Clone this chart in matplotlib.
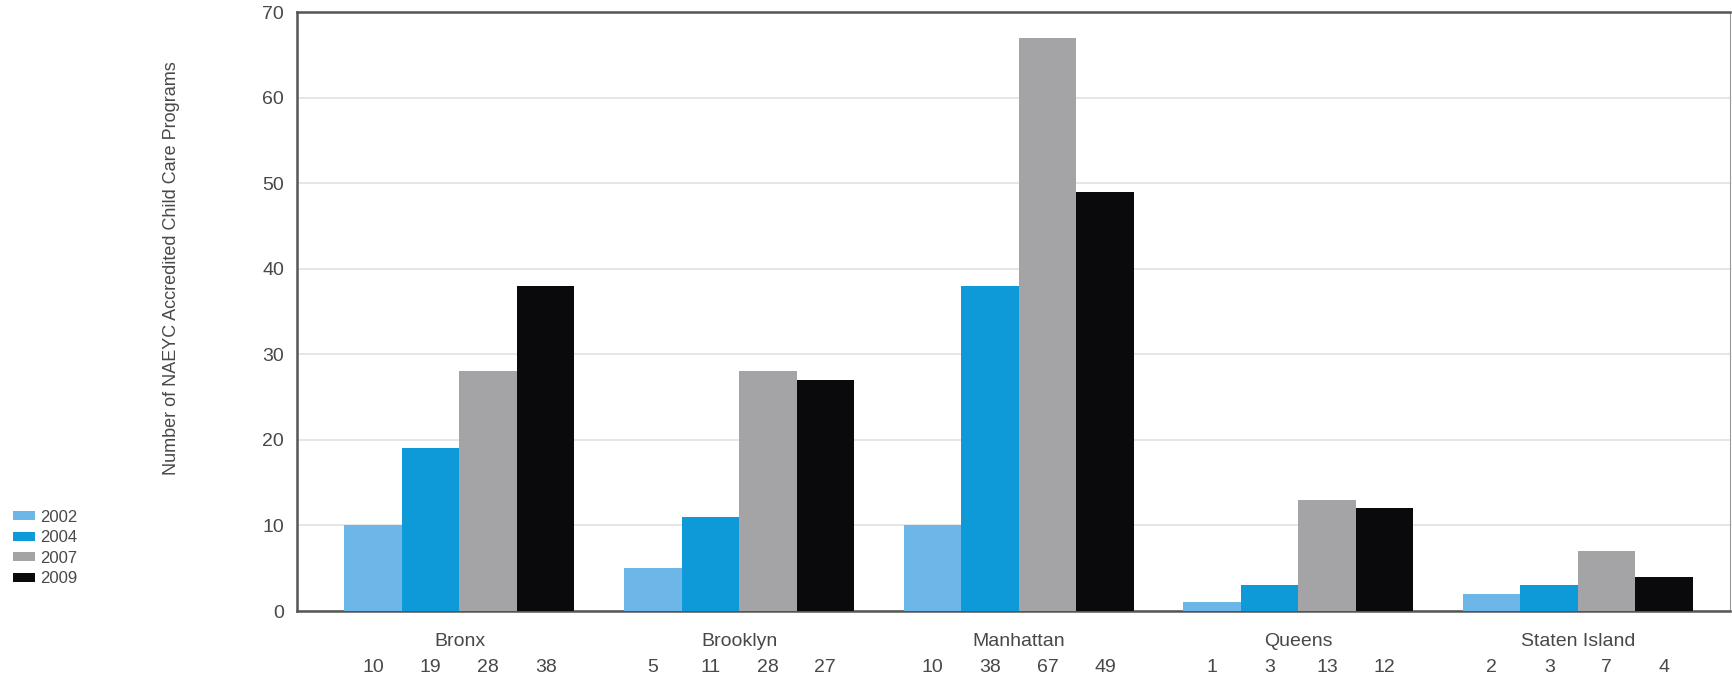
import numpy as np
import matplotlib.pyplot as plt
from matplotlib.patches import Patch

plt.rcParams['font.family'] = ['Liberation Sans', 'DejaVu Sans']

boroughs = ['Bronx', 'Brooklyn', 'Manhattan', 'Queens', 'Staten Island']
years = ['2002', '2004', '2007', '2009']
v2002 = [10, 5, 10, 1, 2]
v2004 = [19, 11, 38, 3, 3]
v2007 = [28, 28, 67, 13, 7]
v2009 = [38, 27, 49, 12, 4]
series = [v2002, v2004, v2007, v2009]
colors = ['#6db6e8', '#0e9ad8', '#a4a4a6', '#0a0a0c']
txt = '#484848'

fig = plt.figure(figsize=(17.32, 6.78), dpi=100)
ax = fig.add_axes([0.1713, 0.0988, 0.8276, 0.8835])

x = np.arange(len(boroughs))
w = 0.2056
for i, (vals, c) in enumerate(zip(series, colors)):
    xs = x + (i - 1.5) * w
    ax.bar(xs, vals, width=w, color=c, zorder=3)
    # year values printed under each bar
    for xi, v in zip(xs, vals):
        ax.text(xi, -0.0935, str(v), transform=ax.get_xaxis_transform(),
                ha='center', va='center', fontsize=14, color=txt)

ax.set_xlim(-0.582, 4.544)
ax.set_ylim(0, 70)
ax.set_yticks(range(0, 71, 10))
ax.set_xticks(x)
ax.set_xticklabels(boroughs, fontsize=14, color=txt)
ax.tick_params(axis='x', length=0, pad=16)
ax.tick_params(axis='y', length=0, pad=9, labelsize=14, labelcolor=txt)
ax.grid(axis='y', color='#e2e2e2', linewidth=1.2, zorder=0)

for side in ['left', 'top', 'bottom']:
    ax.spines[side].set_color('#555555')
    ax.spines[side].set_linewidth(1.8)
ax.spines['right'].set_color('#999999')
ax.spines['right'].set_linewidth(0.8)

fig.text(0.099, 0.605, 'Number of NAEYC Accredited Child Care Programs',
         rotation=90, ha='center', va='center', fontsize=13, color=txt)

handles = [Patch(facecolor=c, label=y) for c, y in zip(colors, years)]
fig.legend(handles=handles, loc='center left', bbox_to_anchor=(0.0075, 0.192),
           frameon=False, fontsize=12, handlelength=1.35, handleheight=0.45,
           handletextpad=0.3, labelspacing=0.33, borderpad=0, borderaxespad=0,
           labelcolor=txt)

fig.savefig('out.png', dpi=100)
